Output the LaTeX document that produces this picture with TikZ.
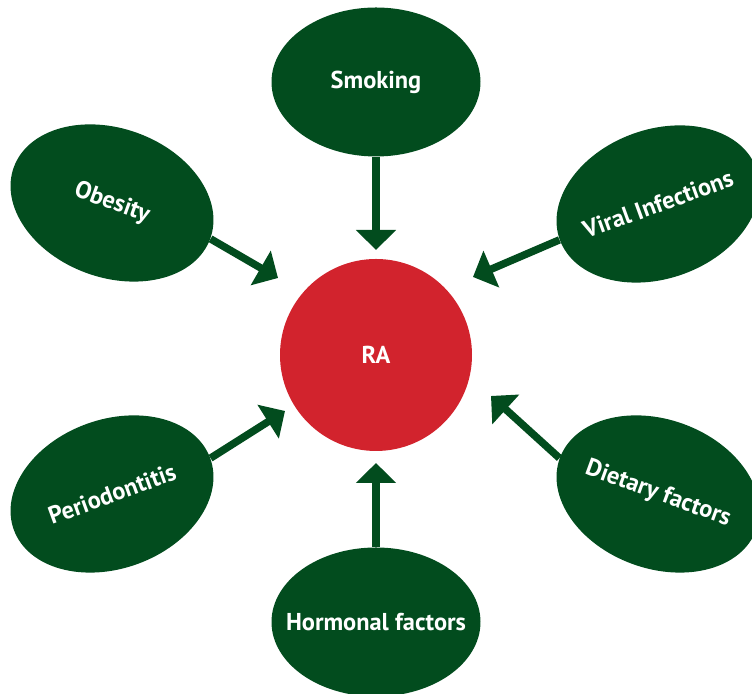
\documentclass[tikz,border=0pt]{standalone}
\usepackage{fontspec}
\setmainfont{PT Sans}
\usepackage{tikz}
\usetikzlibrary{arrows.meta,shapes.geometric}
\definecolor{leaf}{RGB}{2,76,30}
\definecolor{rared}{RGB}{210,35,45}

\begin{document}
\begin{tikzpicture}[x=0.5pt,y=0.5pt,
  factor/.style={ellipse,fill=leaf,minimum width=104.5pt,minimum height=74.5pt,inner sep=0pt},
  lbl/.style={text=white,font=\fontsize{12.2}{14}\selectfont\bfseries},
  arr/.style={leaf,line width=3.75pt,-{Triangle[width=19.5pt,length=10pt]}}]
\useasboundingbox (0,0) rectangle (752,694);
\node[circle,fill=rared,minimum size=96pt,inner sep=0pt] (ra) at (376,339) {};
\node[lbl] at (ra) {RA};

\node[factor] (smoking) at (376,612) {};
\node[factor] (hormonal) at (376,72) {};
\node[factor,rotate=-20] (obesity) at (112,491) {};
\node[factor,rotate=20] (viral) at (658,490) {};
\node[factor,rotate=20] (perio) at (112,200) {};
\node[factor,rotate=-20] (dietary) at (658,200) {};

\node[lbl] at (smoking) {Smoking};
\node[lbl] at (hormonal) {Hormonal factors};
\node[lbl,rotate=-20] at (obesity) {Obesity};
\node[lbl,rotate=20] at (viral) {Viral Infections};
\node[lbl,rotate=20] at (perio) {Periodontitis};
\node[lbl,rotate=-20] at (dietary) {Dietary factors};

\coordinate (tsmoking) at (376,444);
\coordinate (thormonal) at (376,231);
\coordinate (tobesity) at (278,416);
\coordinate (tviral) at (473,417);
\coordinate (tperio) at (285,283);
\coordinate (tdietary) at (491,298);

\draw[arr] (smoking.south) -- (tsmoking);
\draw[arr] (hormonal.north) -- (thormonal);
\draw[arr] (obesity.east) -- (tobesity);
\draw[arr] (viral.west) -- (tviral);
\draw[arr] (perio.east) -- (tperio);
\draw[arr] (dietary.west) -- (tdietary);
\end{tikzpicture}
\end{document}
